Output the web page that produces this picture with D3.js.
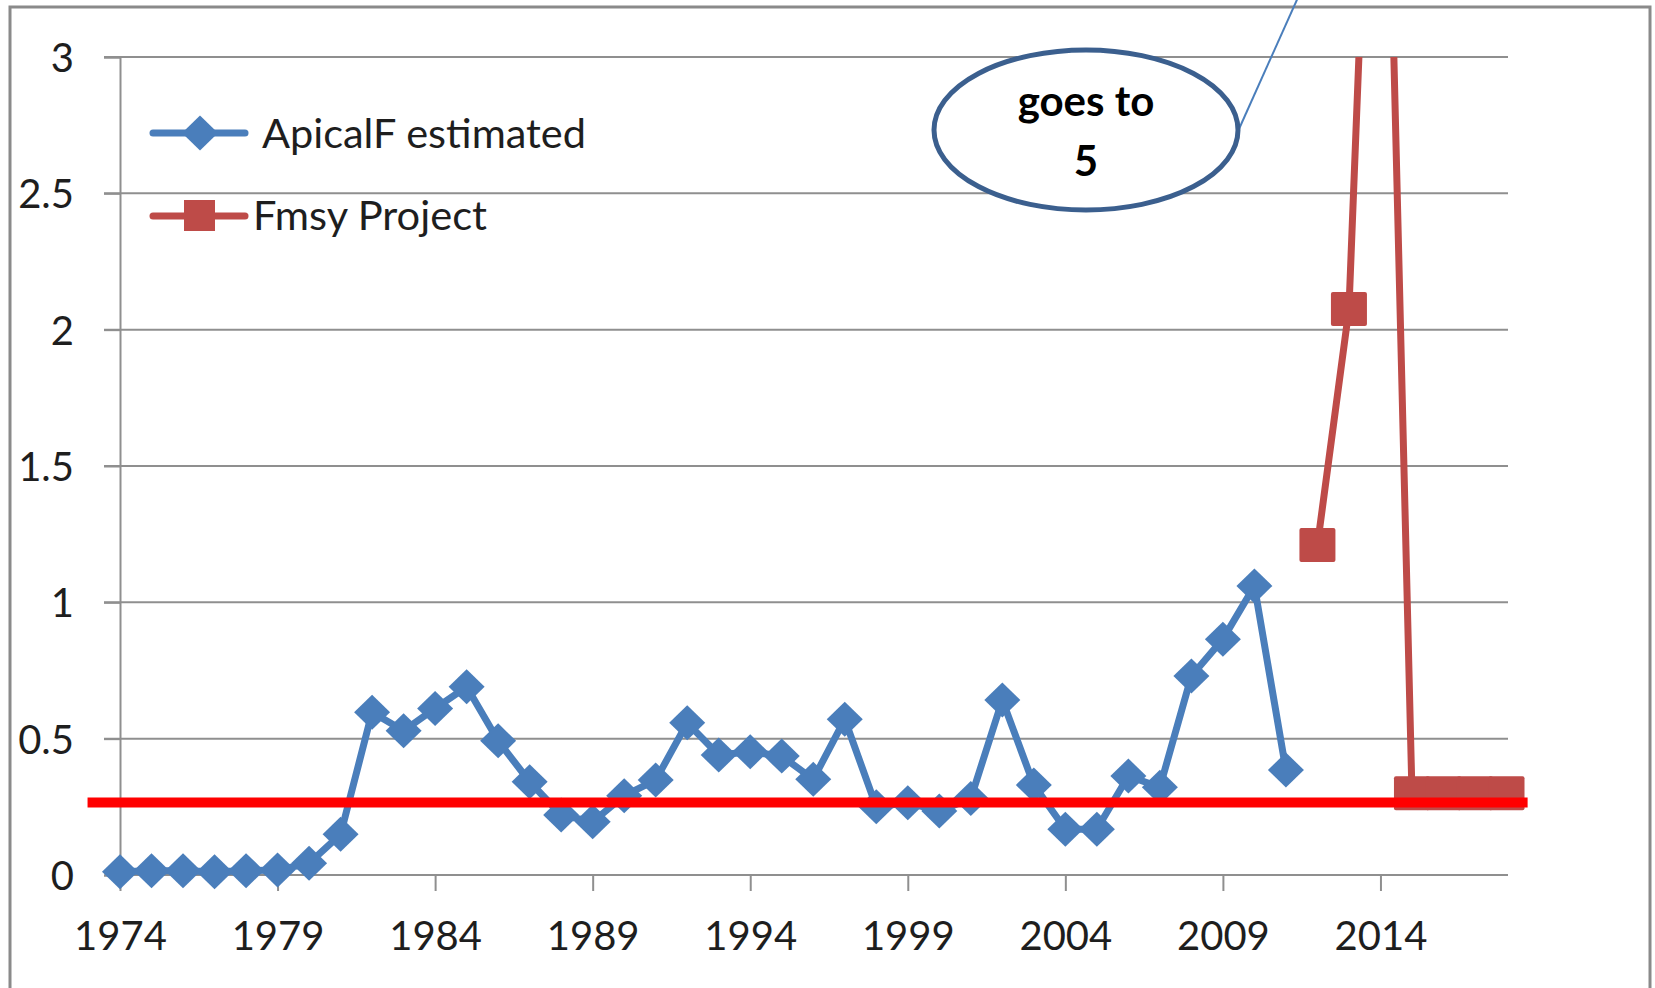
<!DOCTYPE html>
<html>
<head>
<meta charset="utf-8">
<script src="https://cdn.jsdelivr.net/npm/d3@7"></script>
<style>
  html, body { margin: 0; padding: 0; background: #ffffff; }
  svg { display: block; }
  text { font-family: Lato, "Open Sans", "DejaVu Sans", sans-serif; }
</style>
</head>
<body>
<svg id="chart" width="1655" height="988"></svg>
<script>
// ---- data ----
const apicalYears = [1974,1975,1976,1977,1978,1979,1980,1981,1982,1983,1984,1985,1986,1987,1988,1989,1990,1991,1992,1993,1994,1995,1996,1997,1998,1999,2000,2001,2002,2003,2004,2005,2006,2007,2008,2009,2010,2011];
const apicalValues = [0.012,0.016,0.016,0.012,0.016,0.018,0.043,0.149,0.597,0.529,0.611,0.69,0.492,0.342,0.22,0.195,0.291,0.348,0.558,0.44,0.452,0.436,0.351,0.571,0.25,0.265,0.235,0.281,0.642,0.33,0.168,0.168,0.363,0.322,0.73,0.865,1.06,0.385];
const fmsyYears = [2012,2013,2014,2015,2016,2017,2018];
const fmsyValues = [1.21,2.076,5,0.3,0.3,0.3,0.3];
const xTickYears = [1974,1979,1984,1989,1994,1999,2004,2009,2014];
const yTickValues = [0,0.5,1,1.5,2,2.5,3];
const seriesNames = ["ApicalF estimated","Fmsy Project"];
const refLine = { value: 0.266, fromYear: 1972.97, toYear: 2018.67 };
const calloutText = ["goes to","5"];

// ---- layout ----
const svg = d3.select("#chart");
const BLUE = "#4A7EBB", RED = "#BE4B48", GRID = "#8f8f8f", TXT = "#1e1e1e";
const x = d3.scaleLinear().domain([1974, 2018]).range([120, 1506.5]);
const y = d3.scaleLinear().domain([0, 3]).range([875, 57]);

// outer border
svg.append("rect").attr("x", 10).attr("y", 7).attr("width", 1640).attr("height", 990)
  .attr("fill", "none").attr("stroke", "#8a8a8a").attr("stroke-width", 3);

// gridlines
svg.append("g").selectAll("line").data(yTickValues.filter(d => d > 0)).join("line")
  .attr("x1", 104).attr("x2", 1508).attr("y1", d => y(d)).attr("y2", d => y(d))
  .attr("stroke", GRID).attr("stroke-width", 2);

// y axis
const yAxis = d3.axisLeft(y).tickValues(yTickValues).tickSize(16).tickPadding(30)
  .tickFormat(d3.format("~g"));
const gy = svg.append("g").attr("transform", "translate(120,0)").call(yAxis);
gy.select(".domain").attr("stroke", GRID).attr("stroke-width", 2);
gy.selectAll(".tick line").attr("stroke", GRID).attr("stroke-width", 2);
gy.selectAll(".tick text").attr("font-size", 40).attr("fill", TXT)
  .attr("font-family", "Lato, sans-serif").attr("dy", "0.36em");

// x axis
const xAxis = d3.axisBottom(x).tickValues(xTickYears).tickSize(16).tickPadding(30)
  .tickFormat(d3.format("d"));
const gx = svg.append("g").attr("transform", "translate(0,875)").call(xAxis);
gx.select(".domain").attr("stroke", GRID).attr("stroke-width", 2).attr("d", "M120,0H1508");
gx.selectAll(".tick line").attr("stroke", GRID).attr("stroke-width", 2);
gx.selectAll(".tick text").attr("font-size", 40).attr("fill", TXT)
  .attr("font-family", "Lato, sans-serif").attr("dy", "0.0em").attr("y", 75);

// clip to plot top
const defs = svg.append("defs");
defs.append("clipPath").attr("id", "plotclip").append("rect")
  .attr("x", 0).attr("y", y(3)).attr("width", 1655).attr("height", 988);

const plot = svg.append("g").attr("clip-path", "url(#plotclip)");

// blue series
const blueData = apicalYears.map((yr, i) => ({ x: yr, v: apicalValues[i] }));
const line = d3.line().x(d => x(d.x)).y(d => y(d.v));
plot.append("path").datum(blueData).attr("d", line).attr("fill", "none")
  .attr("stroke", BLUE).attr("stroke-width", 7).attr("stroke-linejoin", "round").attr("stroke-linecap", "round");
const diamond = "M0,-17.5L18,0L0,17.5L-18,0Z";
plot.append("g").selectAll("path").data(blueData).join("path")
  .attr("d", diamond).attr("transform", d => `translate(${x(d.x)},${y(d.v)})`).attr("fill", BLUE);

// red series
const redData = fmsyYears.map((yr, i) => ({ x: yr, v: fmsyValues[i] }));
plot.append("path").datum(redData).attr("d", line).attr("fill", "none")
  .attr("stroke", RED).attr("stroke-width", 7).attr("stroke-linejoin", "round");
plot.append("g").selectAll("rect").data(redData).join("rect")
  .attr("x", d => x(d.x) - 18).attr("y", d => y(d.v) - 17).attr("width", 36).attr("height", 34)
  .attr("rx", 2).attr("fill", RED);

// reference line
svg.append("line").attr("x1", x(refLine.fromYear)).attr("x2", x(refLine.toYear))
  .attr("y1", y(refLine.value)).attr("y2", y(refLine.value))
  .attr("stroke", "#FF0000").attr("stroke-width", 10);

// legend
const leg = svg.append("g");
leg.append("line").attr("x1", 153).attr("x2", 245).attr("y1", 133).attr("y2", 133)
  .attr("stroke", BLUE).attr("stroke-width", 7).attr("stroke-linecap", "round");
leg.append("path").attr("d", diamond).attr("transform", "translate(200,133)").attr("fill", BLUE);
leg.append("text").attr("x", 262).attr("y", 147.5).attr("font-size", 40).attr("fill", TXT)
  .attr("textLength", 324).attr("lengthAdjust", "spacingAndGlyphs").text(seriesNames[0]);
leg.append("line").attr("x1", 153).attr("x2", 245).attr("y1", 216).attr("y2", 216)
  .attr("stroke", RED).attr("stroke-width", 7).attr("stroke-linecap", "round");
leg.append("rect").attr("x", 184).attr("y", 200).attr("width", 31).attr("height", 31).attr("fill", RED);
leg.append("text").attr("x", 253).attr("y", 230).attr("font-size", 40).attr("fill", TXT)
  .attr("textLength", 234).attr("lengthAdjust", "spacingAndGlyphs").text(seriesNames[1]);

// callout
svg.append("line").attr("x1", 1239).attr("y1", 129).attr("x2", 1300).attr("y2", -7)
  .attr("stroke", BLUE).attr("stroke-width", 2);
svg.append("ellipse").attr("cx", 1086).attr("cy", 130).attr("rx", 152).attr("ry", 80)
  .attr("fill", "#ffffff").attr("stroke", "#3B5F8E").attr("stroke-width", 5);
svg.append("text").attr("x", 1086).attr("y", 116).attr("text-anchor", "middle")
  .attr("font-size", 42).attr("font-weight", "bold").attr("fill", "#000").text(calloutText[0]);
svg.append("text").attr("x", 1086).attr("y", 176).attr("text-anchor", "middle")
  .attr("font-size", 42).attr("font-weight", "bold").attr("fill", "#000").text(calloutText[1]);
</script>
</body>
</html>
